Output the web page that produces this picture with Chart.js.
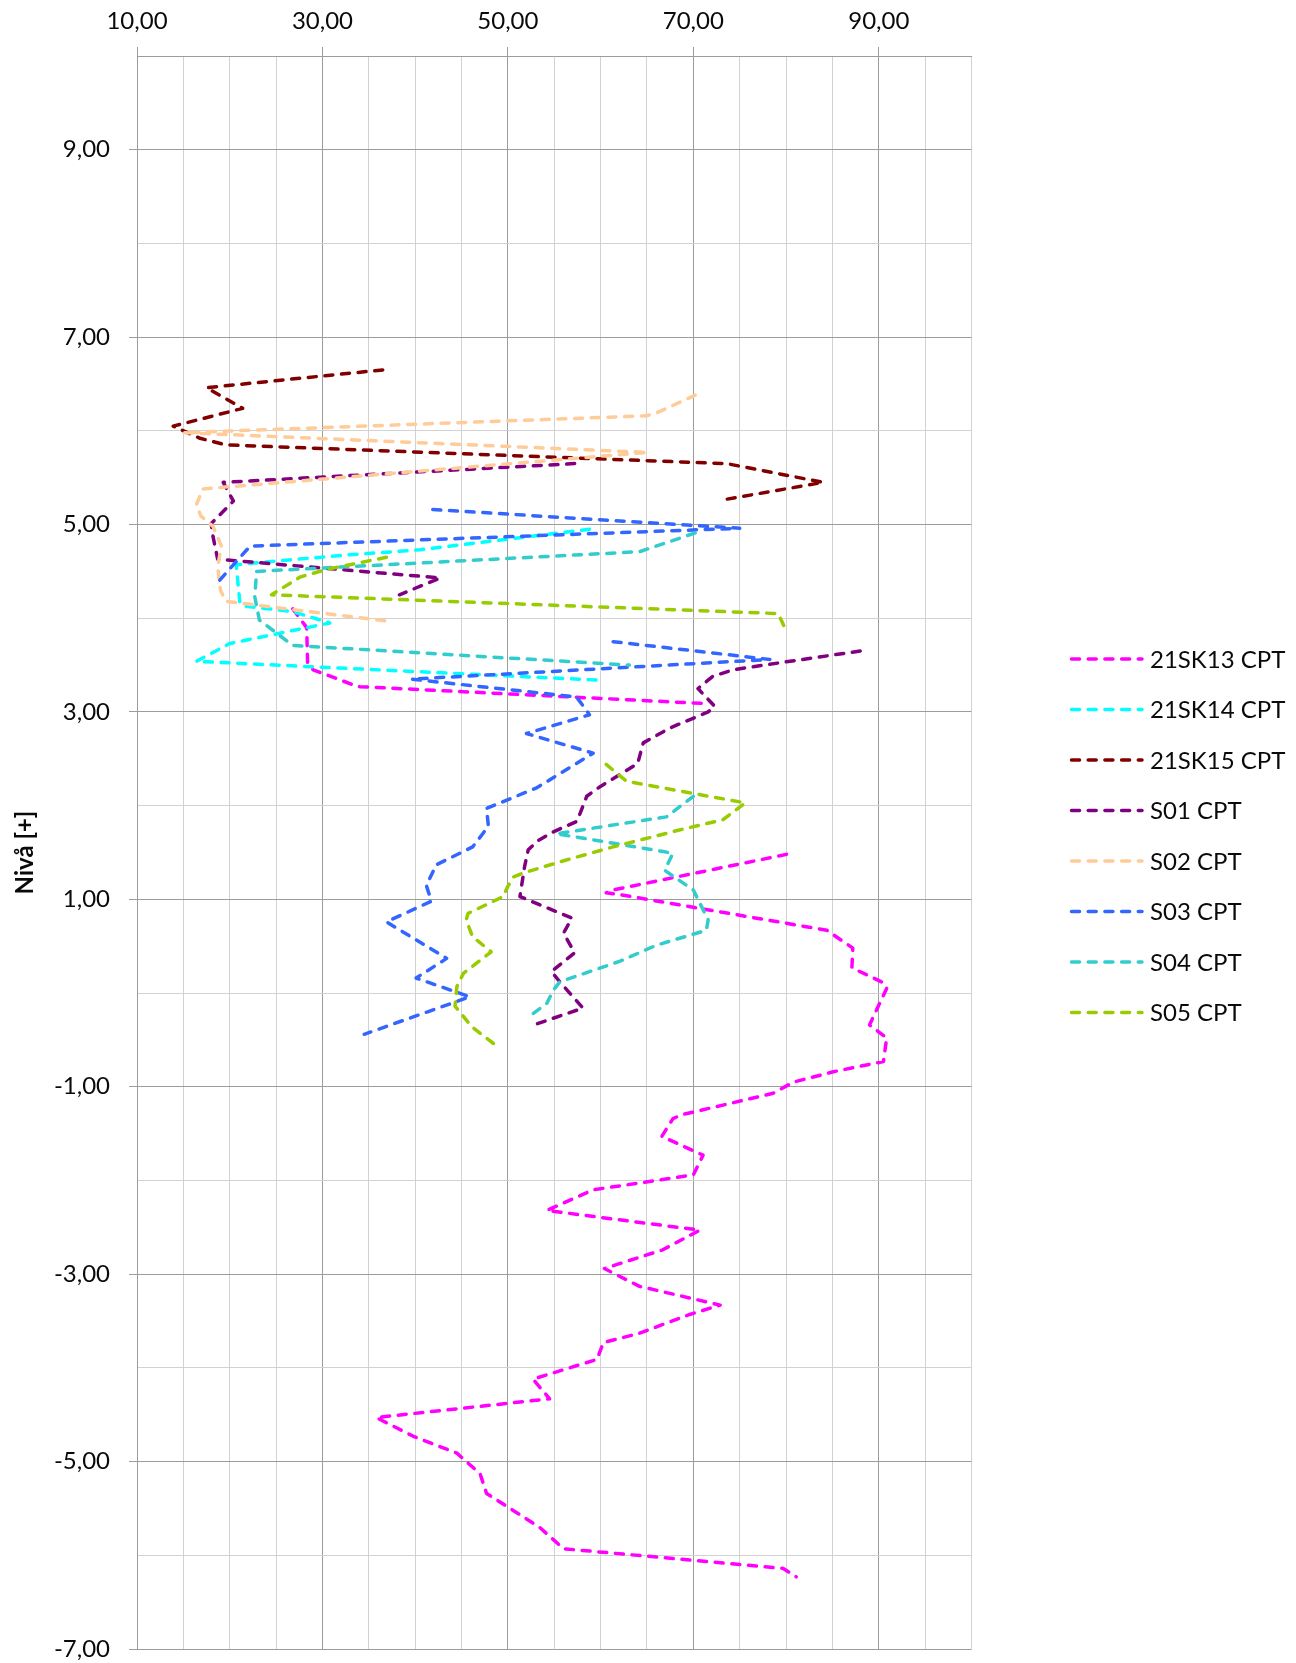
<!DOCTYPE html>
<html>
<head>
<meta charset="utf-8">
<script src="https://cdn.jsdelivr.net/npm/chart.js@4.4.1/dist/chart.umd.min.js"></script>
<style>
  html, body { margin: 0; padding: 0; background: #ffffff; }
  #wrap { width: 1296px; height: 1663px; }
</style>
</head>
<body>
<div id="wrap"><canvas id="cpt" width="1296" height="1663"></canvas></div>
<script>
// CPT soundings: value (x) against level (y). null marks a gap in a sounding.
const seriesNames = ['21SK13 CPT', '21SK14 CPT', '21SK15 CPT', 'S01 CPT', 'S02 CPT', 'S03 CPT', 'S04 CPT', 'S05 CPT'];
const seriesColors = ['#ff00ff', '#00ffff', '#800000', '#800080', '#ffcc99', '#3366ff', '#33cccc', '#99cc00'];

const sk13Value = [26.8, 28.3, 28.4, 29.0, 33.3, 34.0, 71.2, null, 80.05, 61.35, 60.6, 62.1, 84.4, 87.2, 87.1, 90.5, 90.85, 89.0, 90.85, 90.5, 85.1, 80.8, 78.6, 68.7, 67.8, 66.6, 71.05, 70.0, 59.2, 54.2, 70.7, 66.7, 60.4, 64.2, 72.9, 69.6, 64.2, 60.3, 59.6, 52.7, 54.5, 35.8, 39.8, 44.5, 47.0, 47.7, 53.4, 56.0, 79.7, 81.1];
const sk13Level = [4.10, 3.90, 3.52, 3.45, 3.29, 3.27, 3.09, null, 1.48, 1.10, 1.07, 1.05, 0.67, 0.48, 0.27, 0.11, 0.05, -0.34, -0.48, -0.73, -0.84, -0.95, -1.07, -1.30, -1.34, -1.53, -1.73, -1.94, -2.10, -2.32, -2.53, -2.74, -2.94, -3.13, -3.33, -3.43, -3.63, -3.73, -3.91, -4.12, -4.33, -4.53, -4.73, -4.91, -5.13, -5.34, -5.70, -5.93, -6.14, -6.23];

const sk14Value = [58.8, 51.3, 40.5, 33.3, 26.1, 20.7, 21.1, 21.6, 26.8, 30.8, 20.0, 16.4, 59.7];
const sk14Level = [4.95, 4.86, 4.73, 4.68, 4.62, 4.57, 4.16, 4.13, 4.07, 3.95, 3.73, 3.54, 3.34];

const sk15Value = [36.5, 17.5, 21.4, 13.9, 16.8, 19.6, 73.6, 84.0, 73.0];
const sk15Level = [6.65, 6.46, 6.24, 6.05, 5.92, 5.85, 5.65, 5.45, 5.26];

const s01Value = [57.2, 19.3, 20.4, 18.9, 18.0, 18.2, 18.7, 42.7, 38.3, null, 88.0, 79.7, 74.3, 72.1, 70.5, 72.3, 71.6, 67.5, 64.6, 64.0, 59.9, 58.5, 57.8, 57.4, 54.9, 53.3, 52.2, 51.8, 51.3, 56.9, 56.0, 57.2, 54.7, 55.6, 58.1, 52.5];
const s01Level = [5.65, 5.45, 5.25, 5.10, 5.01, 4.87, 4.63, 4.43, 4.25, null, 3.65, 3.53, 3.45, 3.38, 3.25, 3.06, 3.00, 2.83, 2.67, 2.45, 2.20, 2.10, 1.92, 1.83, 1.72, 1.63, 1.53, 1.35, 1.03, 0.80, 0.64, 0.43, 0.23, 0.12, -0.16, -0.35];

const s02Value = [70.2, 66.0, 64.9, 15.0, 65.1, 17.1, 16.4, 16.9, 18.2, 19.1, 18.7, 19.0, 19.6, 36.9];
const s02Level = [6.38, 6.19, 6.16, 5.98, 5.77, 5.38, 5.21, 5.09, 4.98, 4.77, 4.55, 4.30, 4.18, 3.97];

const s03Value = [41.9, 75.0, 22.2, 18.6, null, 61.35, 78.25, 39.6, 57.4, 58.8, 52.0, 59.2, 53.1, 47.7, 47.9, 46.2, 42.3, 41.2, 41.75, 36.9, 43.4, 40.1, 45.9, 34.5];
const s03Level = [5.16, 4.96, 4.77, 4.37, null, 3.75, 3.56, 3.35, 3.16, 2.97, 2.77, 2.56, 2.19, 1.97, 1.78, 1.56, 1.37, 1.15, 0.98, 0.76, 0.37, 0.16, -0.04, -0.44];

const s04Value = [70.2, 64.2, 22.9, 22.7, 23.2, 26.8, 63.1, null, 70.0, 67.1, 55.2, 66.75, 67.8, 66.9, 70.0, 71.6, 71.4, 66.0, 62.1, 55.6, 54.9, 54.2, 52.7];
const s04Level = [4.91, 4.71, 4.50, 4.23, 3.98, 3.71, 3.50, null, 2.10, 1.88, 1.70, 1.51, 1.49, 1.31, 1.10, 0.78, 0.67, 0.51, 0.34, 0.12, 0.03, -0.11, -0.22];

const s05Value = [36.9, 30.4, 27.6, 24.5, 79.15, 79.9, null, 60.6, 62.8, 70.0, 75.6, 73.2, 68.5, 61.35, 56.3, 51.6, 50.6, 50.0, 49.5, 45.7, 45.5, 46.2, 48.2, 45.2, 44.5, 44.3, 46.1, 48.6];
const s05Level = [4.65, 4.52, 4.44, 4.25, 4.05, 3.89, null, 2.44, 2.26, 2.13, 2.03, 1.85, 1.74, 1.56, 1.42, 1.28, 1.24, 1.14, 1.03, 0.85, 0.78, 0.60, 0.44, 0.21, 0.07, -0.14, -0.36, -0.55];

const seriesValues = [sk13Value, sk14Value, sk15Value, s01Value, s02Value, s03Value, s04Value, s05Value];
const seriesLevels = [sk13Level, sk14Level, sk15Level, s01Level, s02Level, s03Level, s04Level, s05Level];

// Axis settings
const xMin = 10, xMax = 100, xStep = 5, xLabelEvery = 20;
const yMin = -7, yMax = 10, yStep = 1;

const MAJOR_GRID = '#9c9c9c';
const MINOR_GRID = '#d2d2d2';
const TEXT = '#0a0a0a';
const DASH = [8, 8.7];
const LINE_W = 3.5;

function fmt(v) { return v.toFixed(2).replace('.', ','); }
function isMajorX(v) { return Math.round(v - xMin) % xLabelEvery === 0; }
function isMajorY(v) { return Math.abs(Math.round(v)) % 2 === 1; }

function toPoints(values, levels) {
  return values.map((v, i) => (v === null || levels[i] === null) ? { x: NaN, y: NaN } : { x: v, y: levels[i] });
}

const datasets = seriesNames.map((name, i) => ({
  label: name,
  data: toPoints(seriesValues[i], seriesLevels[i]),
  borderColor: seriesColors[i],
  backgroundColor: seriesColors[i],
  borderWidth: LINE_W,
  borderDash: DASH,
  borderCapStyle: 'round',
  borderJoinStyle: 'round',
  pointRadius: 0,
  pointHoverRadius: 0,
  tension: 0,
  fill: false,
  spanGaps: false,
  order: seriesNames.length - 1 - i
}));

// Legend drawn to the right of the plot: dashed line sample plus name
const sideLegend = {
  id: 'sideLegend',
  afterDraw(chart) {
    const ctx = chart.ctx;
    const area = chart.chartArea;
    const x0 = area.right + 100;
    const firstRow = area.top + 603;
    const rowH = 50.5;
    ctx.save();
    chart.data.datasets.forEach((ds, i) => {
      const y = firstRow + i * rowH;
      ctx.strokeStyle = ds.borderColor;
      ctx.lineWidth = ds.borderWidth;
      ctx.lineCap = 'round';
      ctx.setLineDash(ds.borderDash);
      ctx.beginPath();
      ctx.moveTo(x0, y);
      ctx.lineTo(x0 + 70.5, y);
      ctx.stroke();
      ctx.setLineDash([]);
      ctx.fillStyle = TEXT;
      ctx.font = '24px Lato';
      ctx.textAlign = 'left';
      ctx.textBaseline = 'middle';
      ctx.fillText(ds.label, x0 + 78.5, y + 1);
    });
    ctx.restore();
  }
};

Chart.defaults.font.family = 'Lato';

new Chart(document.getElementById('cpt'), {
  type: 'line',
  data: { datasets },
  options: {
    responsive: false,
    animation: false,
    devicePixelRatio: 1,
    layout: { padding: { left: 0, top: 0, right: 324.5, bottom: 14 } },
    plugins: {
      legend: { display: false },
      tooltip: { enabled: false }
    },
    scales: {
      x: {
        type: 'linear',
        position: 'top',
        min: xMin,
        max: xMax,
        ticks: {
          stepSize: xStep,
          autoSkip: false,
          maxRotation: 0,
          padding: 11,
          color: TEXT,
          font: { size: 24 },
          callback: v => isMajorX(v) ? fmt(v) : ''
        },
        grid: {
          color: c => isMajorX(c.tick.value) ? MAJOR_GRID : MINOR_GRID,
          tickColor: c => isMajorX(c.tick.value) ? MAJOR_GRID : 'rgba(0,0,0,0)',
          tickLength: 9,
          lineWidth: 1
        },
        border: { color: MAJOR_GRID, width: 1 },
        afterFit: s => { s.height = 56; s.paddingLeft = 0; s.paddingRight = 0; }
      },
      y: {
        type: 'linear',
        min: yMin,
        max: yMax,
        ticks: {
          stepSize: yStep,
          autoSkip: false,
          padding: 19,
          color: TEXT,
          font: { size: 24 },
          callback: v => isMajorY(v) ? fmt(v) : ''
        },
        grid: {
          color: c => isMajorY(c.tick.value) ? MAJOR_GRID : MINOR_GRID,
          tickColor: c => isMajorY(c.tick.value) ? MAJOR_GRID : 'rgba(0,0,0,0)',
          tickLength: 8,
          lineWidth: 1
        },
        border: { color: MAJOR_GRID, width: 1 },
        title: {
          display: true,
          text: 'Nivå [+]',
          color: TEXT,
          font: { size: 24, weight: 'bold' },
          padding: { top: 11, bottom: 0 }
        },
        afterFit: s => { s.width = 137; s.paddingTop = 0; s.paddingBottom = 0; }
      }
    }
  },
  plugins: [sideLegend]
});
</script>
</body>
</html>
